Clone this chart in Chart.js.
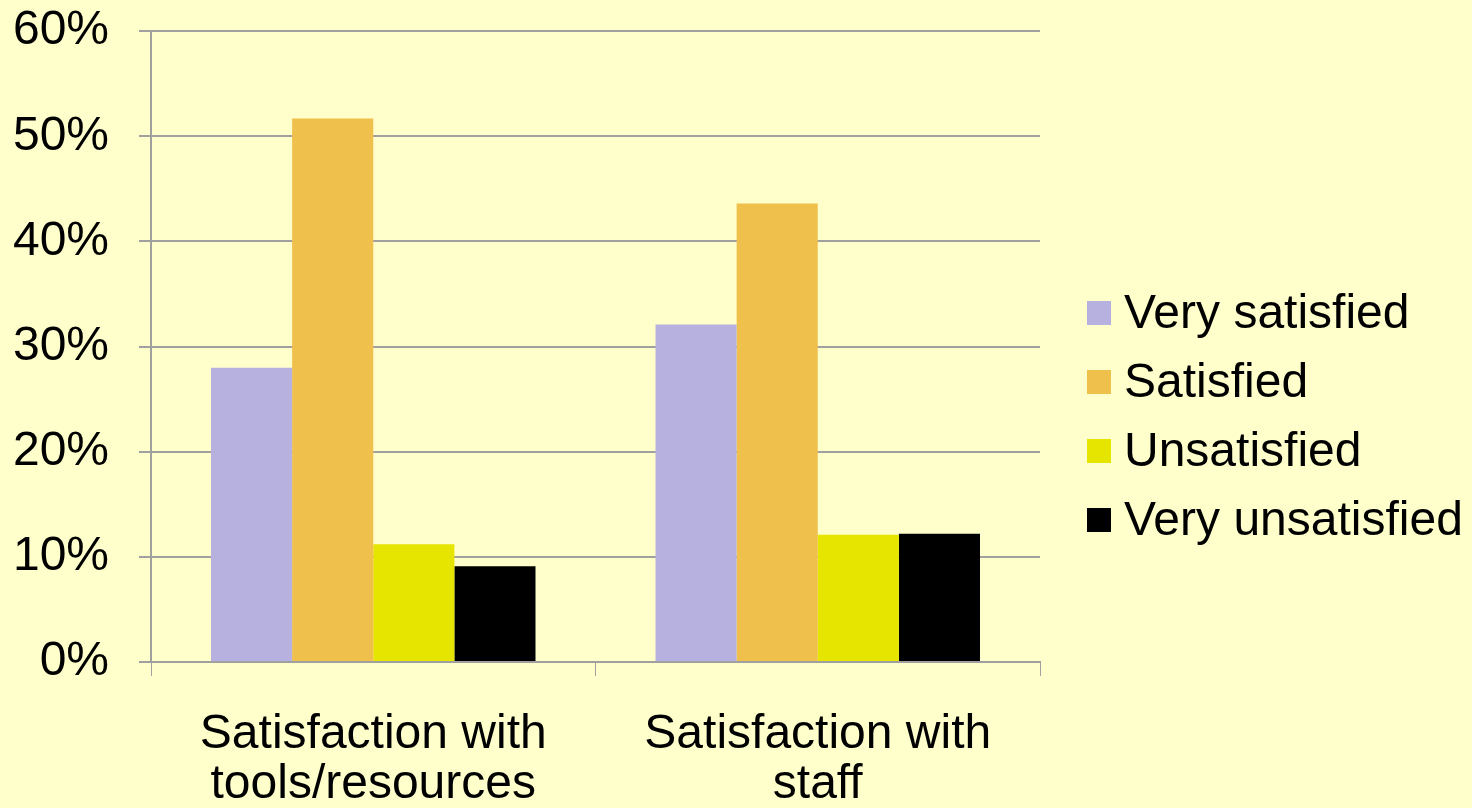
<!DOCTYPE html>
<html>
<head>
<meta charset="utf-8">
<script src="https://cdn.jsdelivr.net/npm/chart.js@4/dist/chart.umd.min.js"></script>
<style>
  html, body { margin: 0; padding: 0; background: #FFFFCC; }
  #wrap { width: 1472px; height: 808px; position: relative; }
</style>
</head>
<body>
<div id="wrap"><canvas id="c" width="1472" height="808"></canvas></div>
<script>
const categories = [["Satisfaction with", "tools/resources"], ["Satisfaction with", "staff"]];
const seriesNames = ["Very satisfied", "Satisfied", "Unsatisfied", "Very unsatisfied"];
const verySatisfied = [28.0, 32.1];
const satisfied = [51.7, 43.6];
const unsatisfied = [11.2, 12.1];
const veryUnsatisfied = [9.1, 12.2];
const yTicks = [0, 10, 20, 30, 40, 50, 60];
const colors = ["#B7B1E0", "#F0C04C", "#E5E500", "#000000"];

const seriesValues = [verySatisfied, satisfied, unsatisfied, veryUnsatisfied];
const FONT = "'Liberation Sans', Arial, sans-serif";

// Legend drawn to the right of the plot area, using dataset labels/colours
const sideLegend = {
  id: 'sideLegend',
  afterDraw(chart) {
    const ctx = chart.ctx;
    const ds = chart.data.datasets;
    const boxX = chart.chartArea.right + 47;
    const startY = 313, step = 69, box = 24;
    ctx.save();
    ctx.font = "48px " + FONT;
    ctx.textBaseline = 'middle';
    ctx.textAlign = 'left';
    ds.forEach((d, i) => {
      const cy = startY + i * step;
      ctx.fillStyle = d.backgroundColor;
      ctx.fillRect(boxX, cy - box / 2, box, box);
      ctx.fillStyle = '#000';
      ctx.fillText(d.label, boxX + 37, cy + 2);
    });
    ctx.restore();
  }
};

new Chart(document.getElementById('c'), {
  type: 'bar',
  data: {
    labels: categories,
    datasets: seriesNames.map((n, i) => ({
      label: n,
      data: seriesValues[i],
      backgroundColor: colors[i],
      borderWidth: 0,
      categoryPercentage: 0.73,
      barPercentage: 1.0
    }))
  },
  plugins: [sideLegend],
  options: {
    responsive: false,
    animation: false,
    devicePixelRatio: 1,
    layout: { padding: { top: 0, right: 432, left: 0, bottom: 0 } },
    plugins: {
      tooltip: { enabled: false },
      legend: { display: false }
    },
    scales: {
      x: {
        grid: { drawOnChartArea: false, drawTicks: true, tickLength: 14, color: '#A0A0A0', offset: true },
        border: { color: '#A0A0A0', width: 2 },
        ticks: {
          color: '#000',
          font: { family: FONT, size: 48, lineHeight: 1.04 },
          padding: 34,
          maxRotation: 0,
          autoSkip: false
        },
        afterFit(scale) { scale.height = 146; }
      },
      y: {
        min: 0,
        max: 60,
        afterBuildTicks(scale) { scale.ticks = yTicks.map(v => ({ value: v })); },
        grid: { color: '#A0A0A0', lineWidth: 2, tickLength: 12 },
        border: { color: '#A0A0A0', width: 2 },
        ticks: {
          color: '#000',
          font: { family: FONT, size: 48, lineHeight: 0.05 },
          padding: 30,
          callback: v => v + '%'
        },
        afterFit(scale) { scale.width = 151; }
      }
    }
  }
});
</script>
</body>
</html>
